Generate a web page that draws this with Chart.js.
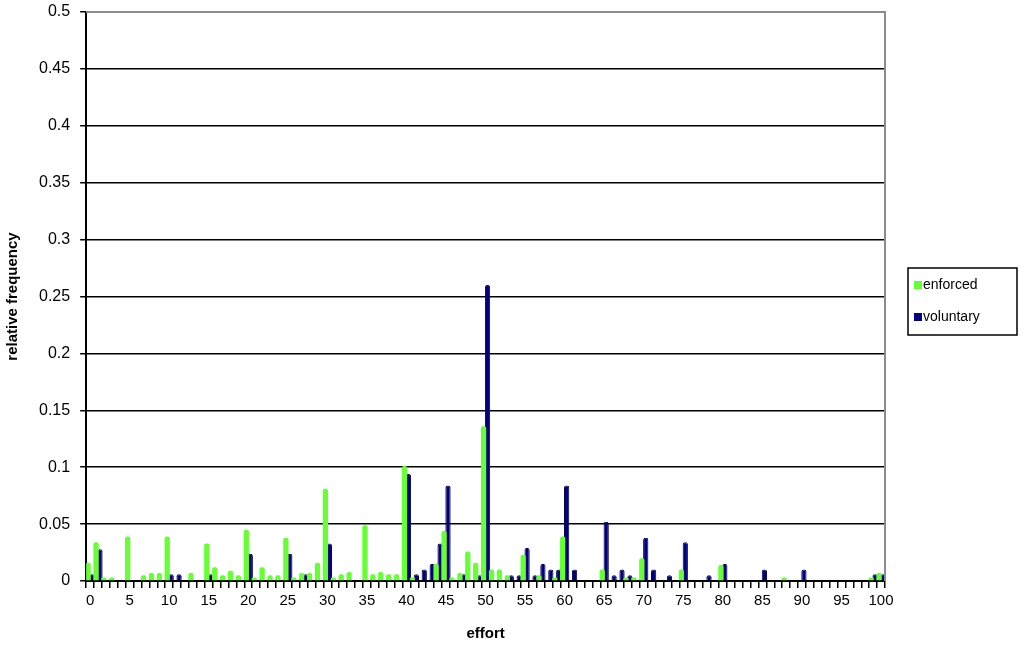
<!DOCTYPE html>
<html>
<head>
<meta charset="utf-8">
<script src="https://cdn.jsdelivr.net/npm/chart.js@4.4.1/dist/chart.umd.min.js"></script>
<style>
  html, body { margin: 0; padding: 0; background: #fff; }
  #wrap { width: 1024px; height: 649px; }
</style>
</head>
<body>
<div id="wrap"><canvas id="chart" width="1024" height="649"></canvas></div>
<script>
var efforts = [];
for (var i = 0; i <= 100; i++) efforts.push(String(i));

// enforced, effort 0..100
var enforced = [
  0.016, 0.034, 0.003, 0.003, 0, 0.039, 0, 0.005, 0.007, 0.007,
  0.039, 0, 0, 0.007, 0, 0.033, 0.012, 0.005, 0.009, 0.005,
  0.045, 0.003, 0.012, 0.005, 0.005, 0.038, 0.003, 0.007, 0.007, 0.016,
  0.081, 0.003, 0.006, 0.008, 0, 0.049, 0.006, 0.008, 0.006, 0.006,
  0.101, 0.003, 0, 0, 0.015, 0.044, 0.003, 0.007, 0.026, 0.016,
  0.136, 0.010, 0.010, 0.005, 0, 0.023, 0, 0.005, 0, 0.003,
  0.039, 0, 0, 0, 0, 0.010, 0, 0, 0.003, 0.003,
  0.020, 0, 0, 0, 0, 0.010, 0, 0, 0, 0,
  0.014, 0, 0, 0, 0, 0, 0, 0, 0.003, 0,
  0, 0, 0, 0, 0, 0, 0, 0, 0, 0.003,
  0.007
];

// voluntary, effort 0..100
var voluntary = [
  0.006, 0.028, 0, 0, 0, 0, 0, 0, 0, 0,
  0.006, 0.006, 0, 0, 0, 0.006, 0, 0, 0, 0,
  0.024, 0, 0, 0, 0, 0.024, 0, 0.006, 0, 0,
  0.033, 0, 0, 0, 0, 0, 0, 0, 0, 0,
  0.094, 0.006, 0.010, 0.015, 0.033, 0.084, 0, 0.006, 0, 0.005,
  0.260, 0, 0, 0.005, 0.005, 0.029, 0.005, 0.015, 0.010, 0.010,
  0.084, 0.010, 0, 0, 0, 0.052, 0.005, 0.010, 0.005, 0,
  0.038, 0.010, 0, 0.005, 0, 0.034, 0, 0, 0.005, 0,
  0.015, 0, 0, 0, 0, 0.010, 0, 0, 0, 0,
  0.010, 0, 0, 0, 0, 0, 0, 0, 0, 0.006,
  0.006
];

var yTicks = [0, 0.05, 0.1, 0.15, 0.2, 0.25, 0.3, 0.35, 0.4, 0.45, 0.5];

var greenCol = '#66ff33';
var blueCol = '#000080';

// excel style: bars of a group overlap a little, so widen them
var widen = {
  id: 'widen',
  afterDatasetsUpdate: function (chart) {
    chart.data.datasets.forEach(function (ds, i) {
      chart.getDatasetMeta(i).data.forEach(function (el) {
        el.width = el.width * 1.4;
      });
    });
  }
};

var frame = {
  id: 'frame',
  afterDraw: function (chart) {
    var ctx = chart.ctx, a = chart.chartArea;
    ctx.save();
    // gray top and right border
    ctx.strokeStyle = '#8c8c8c';
    ctx.lineWidth = 2;
    ctx.beginPath();
    ctx.moveTo(a.left, a.top);
    ctx.lineTo(a.right, a.top);
    ctx.lineTo(a.right, a.bottom);
    ctx.stroke();

    // legend box
    var bx = 908, by = 268, bw = 109, bh = 67;
    ctx.strokeStyle = '#000';
    ctx.lineWidth = 1.5;
    ctx.strokeRect(bx, by, bw, bh);
    ctx.font = '14px "Liberation Sans", Arial, sans-serif';
    ctx.textBaseline = 'middle';
    ctx.textAlign = 'left';
    var items = [
      {label: chart.data.datasets[0].label, color: greenCol, y: by + 17},
      {label: chart.data.datasets[1].label, color: blueCol, y: by + 49}
    ];
    items.forEach(function (it) {
      ctx.fillStyle = it.color;
      ctx.fillRect(bx + 6, it.y - 4, 8, 8);
      ctx.fillStyle = '#000';
      ctx.fillText(it.label, bx + 15, it.y);
    });
    ctx.restore();
  }
};

new Chart(document.getElementById('chart'), {
  type: 'bar',
  data: {
    labels: efforts,
    datasets: [{
      label: 'enforced',
      data: enforced,
      backgroundColor: greenCol,
      borderWidth: 0,
      borderRadius: {topLeft: 2, topRight: 2},
      borderSkipped: 'bottom',
      categoryPercentage: 1.0,
      barPercentage: 0.95
    }, {
      label: 'voluntary',
      data: voluntary,
      backgroundColor: blueCol,
      borderColor: '#00004a',
      borderWidth: 1,
      borderRadius: {topLeft: 2, topRight: 2},
      borderSkipped: 'bottom',
      categoryPercentage: 1.0,
      barPercentage: 0.95
    }]
  },
  options: {
    responsive: false,
    animation: false,
    layout: { padding: { top: 12, right: 139, left: 4, bottom: 6 } },
    plugins: {
      legend: { display: false },
      tooltip: { enabled: false }
    },
    scales: {
      x: {
        offset: true,
        grid: {
          offset: true,
          drawOnChartArea: false,
          drawTicks: true,
          tickLength: 7,
          color: '#000',
          lineWidth: 1.5
        },
        border: { color: '#000', width: 2 },
        ticks: {
          autoSkip: false,
          maxRotation: 0,
          color: '#000',
          padding: 4,
          font: { family: '"Liberation Sans", Arial, sans-serif', size: 15 },
          callback: function (v, i) { return i % 5 === 0 ? efforts[i] : ''; }
        },
        title: {
          display: true,
          text: 'effort',
          color: '#000',
          padding: { top: 11, bottom: 0 },
          font: { family: '"Liberation Sans", Arial, sans-serif', size: 15, weight: 'bold' }
        }
      },
      y: {
        min: 0,
        max: 0.5,
        afterBuildTicks: function (axis) {
          axis.ticks = yTicks.map(function (v) { return {value: v}; });
        },
        afterFit: function (axis) {
          axis.paddingTop = 0;
        },
        grid: {
          color: '#000',
          lineWidth: 1.5,
          drawTicks: true,
          tickLength: 6
        },
        border: { color: '#000', width: 2 },
        ticks: {
          color: '#000',
          padding: 10,
          font: { family: '"Liberation Sans", Arial, sans-serif', size: 16 },
          callback: function (v) { return String(parseFloat(v.toFixed(2))); }
        },
        title: {
          display: true,
          text: 'relative frequency',
          color: '#000',
          padding: { top: 0, bottom: 7 },
          font: { family: '"Liberation Sans", Arial, sans-serif', size: 15, weight: 'bold' }
        }
      }
    }
  },
  plugins: [widen, frame]
});
</script>
</body>
</html>
